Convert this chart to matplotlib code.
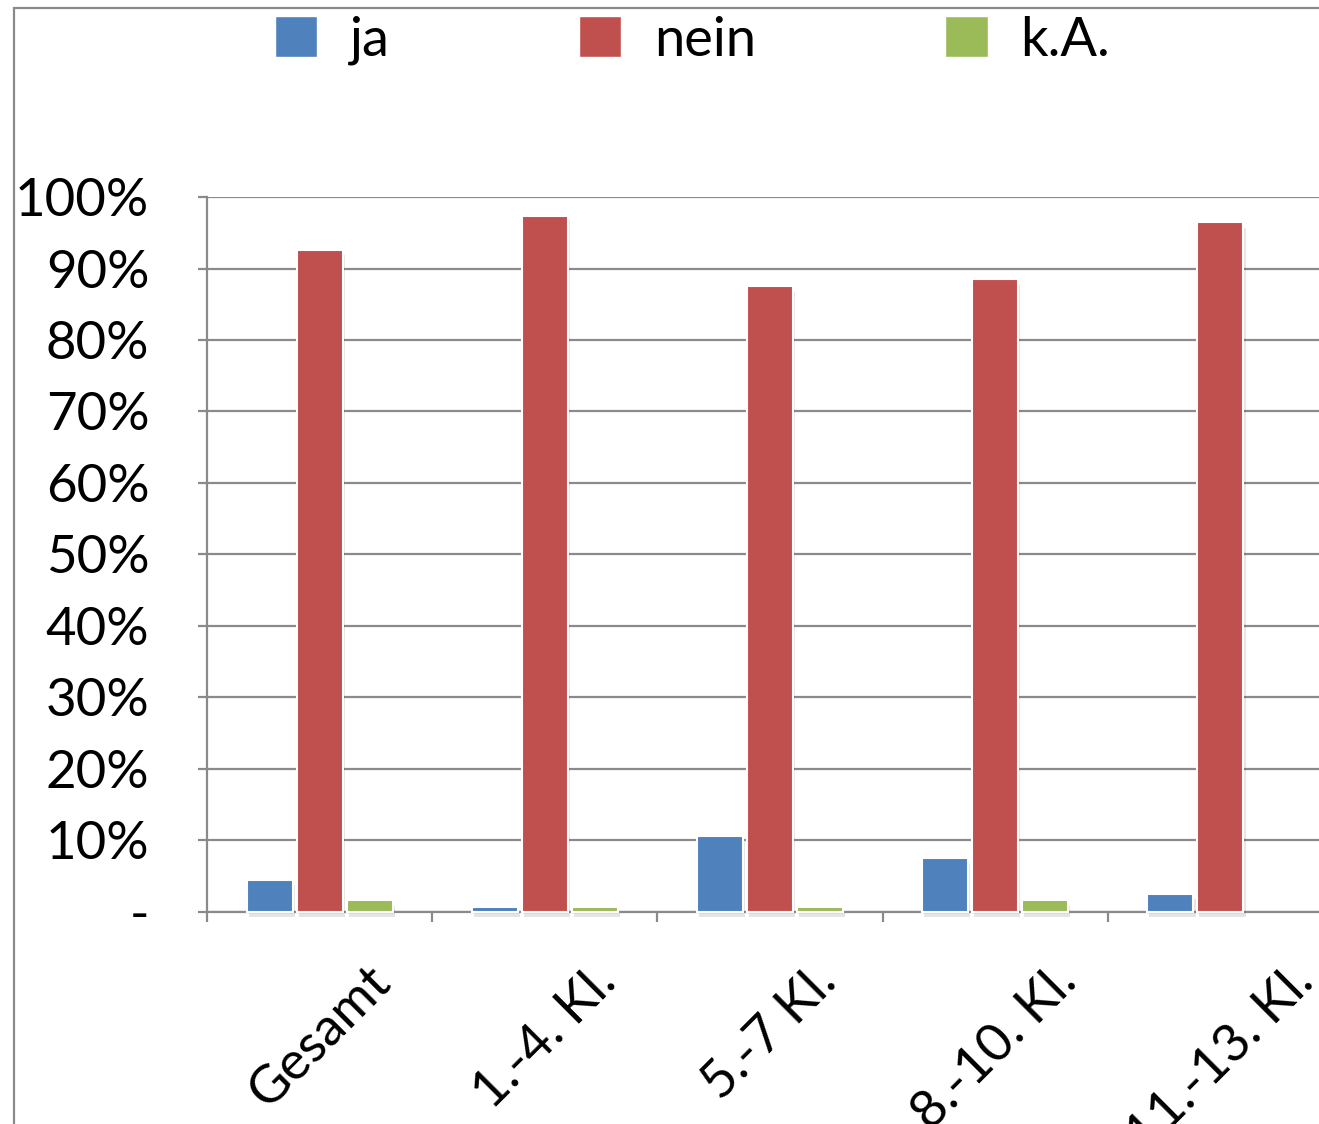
import numpy as np
import matplotlib.pyplot as plt
import matplotlib.patheffects as pe
from matplotlib.patches import Rectangle, Patch

# --- Daten ---
kategorien = ["Gesamt", "1.-4. Kl.", "5.-7 Kl.", "8.-10. Kl.", "11.-13. Kl."]
ja = [4.5, 0.7, 10.6, 7.5, 2.5]
nein = [92.6, 97.4, 87.5, 88.5, 96.5]
ka = [1.6, 0.6, 0.6, 1.6, 0.0]
serien = ["ja", "nein", "k.A."]
farben = ["#4F81BD", "#C0504D", "#9BBB59"]
y_ticks = [0, 10, 20, 30, 40, 50, 60, 70, 80, 90, 100]
y_labels = ["-", "10%", "20%", "30%", "40%", "50%", "60%", "70%", "80%", "90%", "100%"]

plt.rcParams['font.family'] = ['Lato', 'DejaVu Sans']
GRAU = "#8a8a8a"

fig = plt.figure(figsize=(13.19, 11.24), dpi=100)
fig.patch.set_facecolor("white")

# Rahmen um das Diagramm (rechts/unten abgeschnitten)
fig.add_artist(Rectangle((14 / 1319, -0.1), 1.2, 1.1 - 8 / 1124,
                         transform=fig.transFigure, fill=False,
                         edgecolor=GRAU, linewidth=1.6))

ax = fig.add_axes([207 / 1319, 0.1889, (1333 - 207) / 1319, 0.6358])

x = np.arange(len(kategorien))
breite = 0.205
abstand = 0.222
# leichter Schatten unter den Säulen
schatten = [pe.SimplePatchShadow(offset=(1.5, -4), shadow_rgbFace="black", alpha=0.1),
            pe.Normal()]

for i, (werte, farbe, name) in enumerate(zip([ja, nein, ka], farben, serien)):
    bars = ax.bar(x + (i - 1) * abstand, werte, width=breite, color=farbe,
                  edgecolor="white", linewidth=1.5, label=name, zorder=3,
                  clip_on=False)
    for b in bars:
        if b.get_height() > 0:
            b.set_path_effects(schatten)
        else:
            b.set_visible(False)

ax.set_xlim(-0.5, len(kategorien) - 0.5)
ax.set_ylim(0, 100)

# Gitternetz
ax.set_yticks(y_ticks)
ax.set_yticklabels(y_labels)
ax.yaxis.grid(True, color=GRAU, linewidth=1.6, zorder=0)
ax.set_axisbelow(True)

ax.set_xticks(x)
ax.set_xticklabels(kategorien, rotation=45)
ax.set_xticks(np.arange(len(kategorien) + 1) - 0.5, minor=True)

ax.tick_params(axis="y", which="major", length=6.5, width=1.6, color=GRAU,
               pad=35, labelsize=38)
ax.tick_params(axis="x", which="major", length=0, pad=33, labelsize=38)
ax.tick_params(axis="x", which="minor", length=7, width=1.6, color=GRAU)

for s in ["top", "right"]:
    ax.spines[s].set_visible(False)
for s in ["left", "bottom"]:
    ax.spines[s].set_color(GRAU)
    ax.spines[s].set_linewidth(1.6)

# Legende oben
handles = [Patch(facecolor=f, edgecolor="white", linewidth=1) for f in farben]
fig.legend(handles=handles, labels=serien, loc="center",
           bbox_to_anchor=(0.525, 0.964), ncol=3, frameon=False,
           fontsize=39, handlelength=0.78, handleheight=0.78,
           handletextpad=0.6, columnspacing=3.5)

fig.savefig("out.png", dpi=100, facecolor="white")
